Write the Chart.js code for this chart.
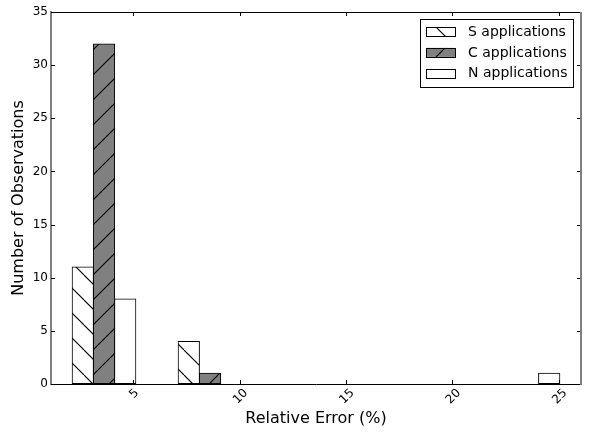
<!DOCTYPE html>
<html>
<head>
<meta charset="utf-8">
<script src="https://cdn.jsdelivr.net/npm/chart.js@4/dist/chart.umd.min.js"></script>
<style>
  html, body { margin: 0; padding: 0; background: #fff; }
  canvas { display: block; }
</style>
</head>
<body>
<canvas id="chart" width="596" height="432"></canvas>
<script>
// histogram bins (relative error, %) - centres of the 5 bins
const binCenters = [3.63, 8.61, 13.59, 18.57, 23.55];
const sApps = [11, 4, 0, 0, 0];
const cApps = [32, 1, 0, 0, 0];
const nApps = [8, 0, 0, 0, 1];
const seriesNames = ["S applications", "C applications", "N applications"];

const xTicks = [5, 10, 15, 20, 25];
const yTicks = [0, 5, 10, 15, 20, 25, 30, 35];
const xRange = [1.14, 26.04];
const yRange = [0, 35];

Chart.defaults.font.family = "'DejaVu Sans', sans-serif";
Chart.defaults.color = "#000";

// matplotlib-like hatch, anchored at canvas origin
function hatch(bg, dir, phase) {
  const size = 25;
  const c = document.createElement("canvas");
  c.width = size;
  c.height = size;
  const g = c.getContext("2d");
  g.fillStyle = bg;
  g.fillRect(0, 0, size, size);
  if (dir) {
    g.strokeStyle = "#000";
    g.lineWidth = 1.1;
    g.beginPath();
    for (let k = -1; k <= 1; k++) {
      const o = k * size + phase;
      if (dir === "/") {
        g.moveTo(o, size);
        g.lineTo(o + size, 0);
      } else {
        g.moveTo(o, 0);
        g.lineTo(o + size, size);
      }
    }
    g.stroke();
  }
  return g.createPattern(c, "repeat");
}

const fills = [hatch("#ffffff", "\\", 9), hatch("#808080", "/", 18), "#ffffff"];

function toPoints(values) {
  return values.map((v, i) => ({ x: binCenters[i], y: v }));
}

// top/right spines, inward ticks, rotated x labels and boxed legend
const frame = {
  id: "frame",
  afterDraw(chart) {
    const { ctx, chartArea: a, scales } = chart;
    const x = scales.x;
    const y = scales.y;
    ctx.save();

    ctx.strokeStyle = "#000";
    ctx.lineWidth = 1;
    ctx.beginPath();
    ctx.moveTo(a.left, a.top + 0.5);
    ctx.lineTo(a.right, a.top + 0.5);
    for (const v of xTicks) {
      const px = Math.round(x.getPixelForValue(v)) + 0.5;
      ctx.moveTo(px, a.top);
      ctx.lineTo(px, a.top + 4);
      ctx.moveTo(px, a.bottom);
      ctx.lineTo(px, a.bottom - 4);
    }
    for (const v of yTicks) {
      const py = Math.round(y.getPixelForValue(v)) + 0.5;
      ctx.moveTo(a.right, py);
      ctx.lineTo(a.right - 4, py);
      ctx.moveTo(a.left, py);
      ctx.lineTo(a.left + 4, py);
    }
    ctx.stroke();

    ctx.strokeStyle = "#808080";
    ctx.lineWidth = 2;
    ctx.beginPath();
    ctx.moveTo(Math.round(a.right), a.top);
    ctx.lineTo(Math.round(a.right), a.bottom + 1);
    ctx.stroke();

    // x tick labels, rotated 45 degrees and centred under the tick
    ctx.fillStyle = "#000";
    ctx.font = "12px 'DejaVu Sans'";
    ctx.textAlign = "center";
    ctx.textBaseline = "middle";
    for (const v of xTicks) {
      const label = String(v);
      const w = ctx.measureText(label).width;
      const cx = x.getPixelForValue(v) + 1;
      const cy = a.bottom + 4 + (w + 9) * 0.707 / 2;
      ctx.save();
      ctx.translate(cx, cy);
      ctx.rotate(-Math.PI / 4);
      ctx.fillText(label, 0, 0);
      ctx.restore();
    }

    // legend
    const lx = 420.5, ly = 19.5, lw = 153, lh = 68;
    ctx.fillStyle = "#fff";
    ctx.fillRect(lx, ly, lw, lh);
    ctx.strokeStyle = "#000";
    ctx.lineWidth = 1;
    ctx.strokeRect(lx, ly, lw, lh);
    ctx.font = "14px 'DejaVu Sans'";
    ctx.textAlign = "left";
    chart.data.datasets.forEach((ds, i) => {
      const rowY = 31.7 + i * 20.7;
      ctx.fillStyle = ds.backgroundColor;
      ctx.fillRect(426, rowY - 4.5, 29, 9);
      ctx.strokeRect(426.5, Math.round(rowY - 4.5) + 0.5, 29, 9);
      ctx.fillStyle = "#000";
      ctx.fillText(ds.label, 468, rowY + 0.5);
    });

    ctx.restore();
  },
};

new Chart(document.getElementById("chart"), {
  type: "bar",
  data: {
    datasets: [sApps, cApps, nApps].map((vals, i) => ({
      label: seriesNames[i],
      data: toPoints(vals),
      backgroundColor: fills[i],
      borderColor: "#000",
      borderWidth: 1,
      borderSkipped: false,
      inflateAmount: 0.5,
      categoryPercentage: 0.6,
      barPercentage: 1.0,
    })),
  },
  options: {
    responsive: false,
    animation: false,
    devicePixelRatio: 1,
    layout: { padding: { top: 12, right: 15, left: 0, bottom: 0 } },
    plugins: { legend: { display: false }, tooltip: { enabled: false } },
    scales: {
      x: {
        type: "linear",
        min: xRange[0],
        max: xRange[1],
        offset: false,
        afterBuildTicks: (axis) => {
          axis.ticks = xTicks.map((v) => ({ value: v }));
        },
        afterFit: (axis) => {
          axis.height = 48;
        },
        ticks: { display: false },
        grid: { display: true, offset: false, drawOnChartArea: false, drawTicks: false },
        border: { display: true, color: "#000", width: 1 },
        title: {
          display: true,
          text: "Relative Error (%)",
          font: { size: 16 },
          padding: { top: 0, bottom: 4 },
        },
      },
      y: {
        min: yRange[0],
        max: yRange[1],
        afterBuildTicks: (axis) => {
          axis.ticks = yTicks.map((v) => ({ value: v }));
        },
        afterFit: (axis) => {
          axis.width = 51;
        },
        ticks: { font: { size: 12 }, padding: 3 },
        grid: { display: true, drawOnChartArea: false, drawTicks: false },
        border: { display: true, color: "#808080", width: 2 },
        title: {
          display: true,
          text: "Number of Observations",
          font: { size: 16 },
          padding: { top: 9, bottom: 0 },
        },
      },
    },
  },
  plugins: [frame],
});
</script>
</body>
</html>
